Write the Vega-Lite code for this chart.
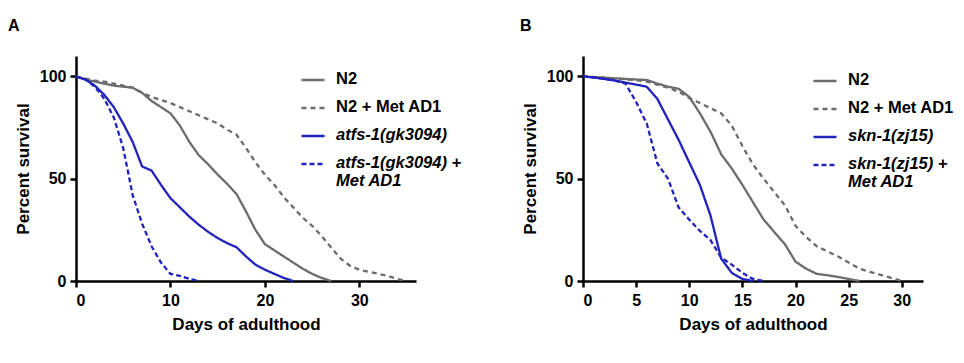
{
  "$schema": "https://vega.github.io/schema/vega-lite/v6.json",
  "padding": {"left": 8, "top": 18, "right": 5, "bottom": 5},
  "background": "white",
  "config": {
    "font": "Liberation Sans",
    "view": {"stroke": null},
    "axis": {
      "grid": false, "domainColor": "black", "domainWidth": 2.5, "tickColor": "black", "tickWidth": 2.5, "tickSize": 6,
      "labelFontSize": 16, "labelFontWeight": "bold", "labelColor": "black", "labelPadding": 3,
      "titleFontSize": 17, "titleFontWeight": "bold", "titleColor": "black"
    },
    "axisX": {"titlePadding": 8, "labelPadding": 5},
    "axisY": {"titlePadding": 7, "labelPadding": 4},
    "legend": {"padding": 0},
    "title": {"fontSize": 16, "fontWeight": "bold", "color": "black", "anchor": "start", "frame": "group"}
  },
  "resolve": {"scale": {"color": "independent", "strokeDash": "independent"}, "legend": {"color": "independent", "strokeDash": "independent"}},
  "datasets": {
    "a": [
      {"day":0,"survival":100,"series":"N2"},{"day":1,"survival":98.5,"series":"N2"},{"day":2,"survival":97.5,"series":"N2"},{"day":3,"survival":96.5,"series":"N2"},{"day":4,"survival":95.5,"series":"N2"},{"day":5,"survival":95,"series":"N2"},{"day":6,"survival":94.5,"series":"N2"},{"day":7,"survival":92,"series":"N2"},{"day":8,"survival":88,"series":"N2"},{"day":9,"survival":85,"series":"N2"},{"day":10,"survival":82,"series":"N2"},{"day":11,"survival":76,"series":"N2"},{"day":12,"survival":68,"series":"N2"},{"day":13,"survival":61.5,"series":"N2"},{"day":14,"survival":57,"series":"N2"},{"day":15,"survival":52,"series":"N2"},{"day":16,"survival":47.5,"series":"N2"},{"day":17,"survival":42.5,"series":"N2"},{"day":18,"survival":34,"series":"N2"},{"day":19,"survival":25,"series":"N2"},{"day":20,"survival":18,"series":"N2"},{"day":21,"survival":15,"series":"N2"},{"day":22,"survival":12,"series":"N2"},{"day":23,"survival":9,"series":"N2"},{"day":24,"survival":6,"series":"N2"},{"day":25,"survival":3.5,"series":"N2"},{"day":26,"survival":1.5,"series":"N2"},{"day":27,"survival":0,"series":"N2"},
      {"day":0,"survival":100,"series":"N2 + Met AD1"},{"day":1,"survival":99,"series":"N2 + Met AD1"},{"day":2,"survival":98,"series":"N2 + Met AD1"},{"day":3,"survival":97.5,"series":"N2 + Met AD1"},{"day":4,"survival":96.5,"series":"N2 + Met AD1"},{"day":5,"survival":95.5,"series":"N2 + Met AD1"},{"day":6,"survival":94.5,"series":"N2 + Met AD1"},{"day":7,"survival":92,"series":"N2 + Met AD1"},{"day":8,"survival":90,"series":"N2 + Met AD1"},{"day":9,"survival":88.5,"series":"N2 + Met AD1"},{"day":10,"survival":87,"series":"N2 + Met AD1"},{"day":11,"survival":85,"series":"N2 + Met AD1"},{"day":12,"survival":83,"series":"N2 + Met AD1"},{"day":13,"survival":81,"series":"N2 + Met AD1"},{"day":14,"survival":79,"series":"N2 + Met AD1"},{"day":15,"survival":77,"series":"N2 + Met AD1"},{"day":16,"survival":74,"series":"N2 + Met AD1"},{"day":17,"survival":71.5,"series":"N2 + Met AD1"},{"day":18,"survival":65,"series":"N2 + Met AD1"},{"day":19,"survival":58,"series":"N2 + Met AD1"},{"day":20,"survival":52,"series":"N2 + Met AD1"},{"day":21,"survival":47,"series":"N2 + Met AD1"},{"day":22,"survival":41,"series":"N2 + Met AD1"},{"day":23,"survival":36,"series":"N2 + Met AD1"},{"day":24,"survival":31,"series":"N2 + Met AD1"},{"day":25,"survival":27,"series":"N2 + Met AD1"},{"day":26,"survival":22,"series":"N2 + Met AD1"},{"day":27,"survival":16.5,"series":"N2 + Met AD1"},{"day":28,"survival":11,"series":"N2 + Met AD1"},{"day":29,"survival":7.5,"series":"N2 + Met AD1"},{"day":30,"survival":5.5,"series":"N2 + Met AD1"},{"day":31,"survival":4.5,"series":"N2 + Met AD1"},{"day":32,"survival":3.5,"series":"N2 + Met AD1"},{"day":33,"survival":2.5,"series":"N2 + Met AD1"},{"day":34,"survival":1,"series":"N2 + Met AD1"},{"day":35,"survival":0,"series":"N2 + Met AD1"},
      {"day":0,"survival":100,"series":"atfs-1(gk3094)"},{"day":1,"survival":98.5,"series":"atfs-1(gk3094)"},{"day":2,"survival":95.5,"series":"atfs-1(gk3094)"},{"day":3,"survival":91,"series":"atfs-1(gk3094)"},{"day":4,"survival":85,"series":"atfs-1(gk3094)"},{"day":5,"survival":77,"series":"atfs-1(gk3094)"},{"day":6,"survival":68,"series":"atfs-1(gk3094)"},{"day":7,"survival":56,"series":"atfs-1(gk3094)"},{"day":8,"survival":54,"series":"atfs-1(gk3094)"},{"day":9,"survival":47,"series":"atfs-1(gk3094)"},{"day":10,"survival":40.5,"series":"atfs-1(gk3094)"},{"day":11,"survival":36,"series":"atfs-1(gk3094)"},{"day":12,"survival":31.5,"series":"atfs-1(gk3094)"},{"day":13,"survival":27.5,"series":"atfs-1(gk3094)"},{"day":14,"survival":24,"series":"atfs-1(gk3094)"},{"day":15,"survival":21,"series":"atfs-1(gk3094)"},{"day":16,"survival":18.5,"series":"atfs-1(gk3094)"},{"day":17,"survival":16.5,"series":"atfs-1(gk3094)"},{"day":18,"survival":12,"series":"atfs-1(gk3094)"},{"day":19,"survival":8,"series":"atfs-1(gk3094)"},{"day":20,"survival":5.5,"series":"atfs-1(gk3094)"},{"day":21,"survival":3.5,"series":"atfs-1(gk3094)"},{"day":22,"survival":1.5,"series":"atfs-1(gk3094)"},{"day":23,"survival":0,"series":"atfs-1(gk3094)"},
      {"day":0,"survival":100,"series":"atfs-1(gk3094) + Met AD1"},{"day":1,"survival":98.5,"series":"atfs-1(gk3094) + Met AD1"},{"day":2,"survival":95,"series":"atfs-1(gk3094) + Met AD1"},{"day":3,"survival":89,"series":"atfs-1(gk3094) + Met AD1"},{"day":4,"survival":80,"series":"atfs-1(gk3094) + Met AD1"},{"day":5,"survival":65,"series":"atfs-1(gk3094) + Met AD1"},{"day":6,"survival":42,"series":"atfs-1(gk3094) + Met AD1"},{"day":7,"survival":28,"series":"atfs-1(gk3094) + Met AD1"},{"day":8,"survival":17,"series":"atfs-1(gk3094) + Met AD1"},{"day":9,"survival":9,"series":"atfs-1(gk3094) + Met AD1"},{"day":10,"survival":3.5,"series":"atfs-1(gk3094) + Met AD1"},{"day":11,"survival":2.5,"series":"atfs-1(gk3094) + Met AD1"},{"day":12,"survival":1,"series":"atfs-1(gk3094) + Met AD1"},{"day":13,"survival":0,"series":"atfs-1(gk3094) + Met AD1"}
    ],
    "b": [
      {"day":0,"survival":100,"series":"N2"},{"day":1,"survival":99.7,"series":"N2"},{"day":2,"survival":99.4,"series":"N2"},{"day":3,"survival":99.1,"series":"N2"},{"day":4,"survival":98.8,"series":"N2"},{"day":5,"survival":98.5,"series":"N2"},{"day":6,"survival":98.3,"series":"N2"},{"day":7,"survival":96.5,"series":"N2"},{"day":8,"survival":95,"series":"N2"},{"day":9,"survival":94,"series":"N2"},{"day":10,"survival":90,"series":"N2"},{"day":11,"survival":82,"series":"N2"},{"day":12,"survival":73,"series":"N2"},{"day":13,"survival":62,"series":"N2"},{"day":14,"survival":55,"series":"N2"},{"day":15,"survival":47,"series":"N2"},{"day":16,"survival":38.5,"series":"N2"},{"day":17,"survival":30,"series":"N2"},{"day":18,"survival":24,"series":"N2"},{"day":19,"survival":18,"series":"N2"},{"day":20,"survival":9.5,"series":"N2"},{"day":21,"survival":6,"series":"N2"},{"day":22,"survival":3.5,"series":"N2"},{"day":23,"survival":2.8,"series":"N2"},{"day":24,"survival":2,"series":"N2"},{"day":25,"survival":1,"series":"N2"},{"day":26,"survival":0,"series":"N2"},
      {"day":0,"survival":100,"series":"N2 + Met AD1"},{"day":1,"survival":99.7,"series":"N2 + Met AD1"},{"day":2,"survival":99.4,"series":"N2 + Met AD1"},{"day":3,"survival":99,"series":"N2 + Met AD1"},{"day":4,"survival":98.6,"series":"N2 + Met AD1"},{"day":5,"survival":98.2,"series":"N2 + Met AD1"},{"day":6,"survival":97.5,"series":"N2 + Met AD1"},{"day":7,"survival":96,"series":"N2 + Met AD1"},{"day":8,"survival":94.5,"series":"N2 + Met AD1"},{"day":9,"survival":92.5,"series":"N2 + Met AD1"},{"day":10,"survival":89.5,"series":"N2 + Met AD1"},{"day":11,"survival":87,"series":"N2 + Met AD1"},{"day":12,"survival":84.5,"series":"N2 + Met AD1"},{"day":13,"survival":82,"series":"N2 + Met AD1"},{"day":14,"survival":76,"series":"N2 + Met AD1"},{"day":15,"survival":66,"series":"N2 + Met AD1"},{"day":16,"survival":57,"series":"N2 + Met AD1"},{"day":17,"survival":50,"series":"N2 + Met AD1"},{"day":18,"survival":43.5,"series":"N2 + Met AD1"},{"day":19,"survival":37,"series":"N2 + Met AD1"},{"day":20,"survival":27,"series":"N2 + Met AD1"},{"day":21,"survival":21.5,"series":"N2 + Met AD1"},{"day":22,"survival":17,"series":"N2 + Met AD1"},{"day":23,"survival":14.5,"series":"N2 + Met AD1"},{"day":24,"survival":12,"series":"N2 + Met AD1"},{"day":25,"survival":9,"series":"N2 + Met AD1"},{"day":26,"survival":6,"series":"N2 + Met AD1"},{"day":27,"survival":4.5,"series":"N2 + Met AD1"},{"day":28,"survival":3,"series":"N2 + Met AD1"},{"day":29,"survival":1.5,"series":"N2 + Met AD1"},{"day":30,"survival":0,"series":"N2 + Met AD1"},
      {"day":0,"survival":100,"series":"skn-1(zj15)"},{"day":1,"survival":99.5,"series":"skn-1(zj15)"},{"day":2,"survival":98.8,"series":"skn-1(zj15)"},{"day":3,"survival":98,"series":"skn-1(zj15)"},{"day":4,"survival":97,"series":"skn-1(zj15)"},{"day":5,"survival":96,"series":"skn-1(zj15)"},{"day":6,"survival":95,"series":"skn-1(zj15)"},{"day":7,"survival":89,"series":"skn-1(zj15)"},{"day":8,"survival":79,"series":"skn-1(zj15)"},{"day":9,"survival":69,"series":"skn-1(zj15)"},{"day":10,"survival":58,"series":"skn-1(zj15)"},{"day":11,"survival":47,"series":"skn-1(zj15)"},{"day":12,"survival":32,"series":"skn-1(zj15)"},{"day":13,"survival":11,"series":"skn-1(zj15)"},{"day":14,"survival":4,"series":"skn-1(zj15)"},{"day":15,"survival":1,"series":"skn-1(zj15)"},{"day":16,"survival":0,"series":"skn-1(zj15)"},
      {"day":0,"survival":100,"series":"skn-1(zj15) + Met AD1"},{"day":1,"survival":99.5,"series":"skn-1(zj15) + Met AD1"},{"day":2,"survival":98.8,"series":"skn-1(zj15) + Met AD1"},{"day":3,"survival":98,"series":"skn-1(zj15) + Met AD1"},{"day":4,"survival":96.5,"series":"skn-1(zj15) + Met AD1"},{"day":5,"survival":87.5,"series":"skn-1(zj15) + Met AD1"},{"day":6,"survival":77,"series":"skn-1(zj15) + Met AD1"},{"day":7,"survival":57.5,"series":"skn-1(zj15) + Met AD1"},{"day":8,"survival":50,"series":"skn-1(zj15) + Met AD1"},{"day":9,"survival":36,"series":"skn-1(zj15) + Met AD1"},{"day":10,"survival":30,"series":"skn-1(zj15) + Met AD1"},{"day":11,"survival":24.5,"series":"skn-1(zj15) + Met AD1"},{"day":12,"survival":20,"series":"skn-1(zj15) + Met AD1"},{"day":13,"survival":11.5,"series":"skn-1(zj15) + Met AD1"},{"day":14,"survival":8,"series":"skn-1(zj15) + Met AD1"},{"day":15,"survival":4,"series":"skn-1(zj15) + Met AD1"},{"day":16,"survival":1,"series":"skn-1(zj15) + Met AD1"},{"day":17,"survival":0,"series":"skn-1(zj15) + Met AD1"}
    ]
  },
  "hconcat": [
    {
      "width": 340, "height": 225,
      "title": {"text": "A", "dx": -68, "offset": 22},
      "data": {"name": "a"},
      "mark": {"type": "line", "strokeWidth": 2.3},
      "encoding": {
        "x": {"field": "day", "type": "quantitative", "scale": {"domain": [0, 36], "nice": false}, "axis": {"values": [0, 10, 20, 30], "title": "Days of adulthood"}},
        "y": {"field": "survival", "type": "quantitative", "scale": {"domain": [0, 110], "nice": false}, "axis": {"values": [0, 50, 100], "title": "Percent survival"}},
        "color": {"field": "series", "type": "nominal",
          "scale": {"domain": ["N2", "N2 + Met AD1", "atfs-1(gk3094)", "atfs-1(gk3094) + Met AD1"], "range": ["#6c6c6c", "#6c6c6c", "#2222bc", "#2222bc"]},
          "legend": {"title": null, "orient": "none", "legendX": 224, "legendY": 11, "symbolType": "stroke", "symbolSize": 530, "symbolStrokeWidth": 2.5, "labelFontSize": 16.5, "labelFontWeight": "bold", "labelColor": "black", "labelOffset": 10, "labelLimit": 300, "rowPadding": 8, "labelBaseline": "top",
            "labelExpr": "datum.label == 'atfs-1(gk3094) + Met AD1' ? ['atfs-1(gk3094) +', 'Met AD1'] : datum.label",
            "encode": {"labels": {"update": {"dy": {"value": -9.5}, "fontStyle": {"signal": "indexof(datum.label, 'N2') == 0 ? 'normal' : 'italic'"}}}}}},
        "strokeDash": {"field": "series", "type": "nominal",
          "scale": {"domain": ["N2", "N2 + Met AD1", "atfs-1(gk3094)", "atfs-1(gk3094) + Met AD1"], "range": [[1, 0], [5, 4], [1, 0], [5, 3]]},
          "legend": {"title": null, "orient": "none", "legendX": 224, "legendY": 11, "symbolType": "stroke", "symbolSize": 530, "symbolStrokeWidth": 2.5, "labelFontSize": 16.5, "labelFontWeight": "bold", "labelColor": "black", "labelOffset": 10, "labelLimit": 300, "rowPadding": 8, "labelBaseline": "top",
            "labelExpr": "datum.label == 'atfs-1(gk3094) + Met AD1' ? ['atfs-1(gk3094) +', 'Met AD1'] : datum.label",
            "encode": {"labels": {"update": {"dy": {"value": -9.5}, "fontStyle": {"signal": "indexof(datum.label, 'N2') == 0 ? 'normal' : 'italic'"}}}}}}
      }
    },
    {
      "width": 340, "height": 225,
      "title": {"text": "B", "dx": -63, "offset": 22},
      "data": {"name": "b"},
      "mark": {"type": "line", "strokeWidth": 2.3},
      "encoding": {
        "x": {"field": "day", "type": "quantitative", "scale": {"domain": [0, 32], "nice": false}, "axis": {"values": [0, 5, 10, 15, 20, 25, 30], "title": "Days of adulthood"}},
        "y": {"field": "survival", "type": "quantitative", "scale": {"domain": [0, 110], "nice": false}, "axis": {"values": [0, 50, 100], "title": "Percent survival"}},
        "color": {"field": "series", "type": "nominal",
          "scale": {"domain": ["N2", "N2 + Met AD1", "skn-1(zj15)", "skn-1(zj15) + Met AD1"], "range": ["#6c6c6c", "#6c6c6c", "#2222bc", "#2222bc"]},
          "legend": {"title": null, "orient": "none", "legendX": 229, "legendY": 12, "symbolType": "stroke", "symbolSize": 530, "symbolStrokeWidth": 2.5, "labelFontSize": 16.5, "labelFontWeight": "bold", "labelColor": "black", "labelOffset": 10, "labelLimit": 300, "rowPadding": 8, "labelBaseline": "top",
            "labelExpr": "datum.label == 'skn-1(zj15) + Met AD1' ? ['skn-1(zj15) +', 'Met AD1'] : datum.label",
            "encode": {"labels": {"update": {"dy": {"value": -9.5}, "fontStyle": {"signal": "indexof(datum.label, 'N2') == 0 ? 'normal' : 'italic'"}}}}}},
        "strokeDash": {"field": "series", "type": "nominal",
          "scale": {"domain": ["N2", "N2 + Met AD1", "skn-1(zj15)", "skn-1(zj15) + Met AD1"], "range": [[1, 0], [5, 4], [1, 0], [5, 3]]},
          "legend": {"title": null, "orient": "none", "legendX": 229, "legendY": 12, "symbolType": "stroke", "symbolSize": 530, "symbolStrokeWidth": 2.5, "labelFontSize": 16.5, "labelFontWeight": "bold", "labelColor": "black", "labelOffset": 10, "labelLimit": 300, "rowPadding": 8, "labelBaseline": "top",
            "labelExpr": "datum.label == 'skn-1(zj15) + Met AD1' ? ['skn-1(zj15) +', 'Met AD1'] : datum.label",
            "encode": {"labels": {"update": {"dy": {"value": -9.5}, "fontStyle": {"signal": "indexof(datum.label, 'N2') == 0 ? 'normal' : 'italic'"}}}}}}
      }
    }
  ],
  "spacing": 58
}
